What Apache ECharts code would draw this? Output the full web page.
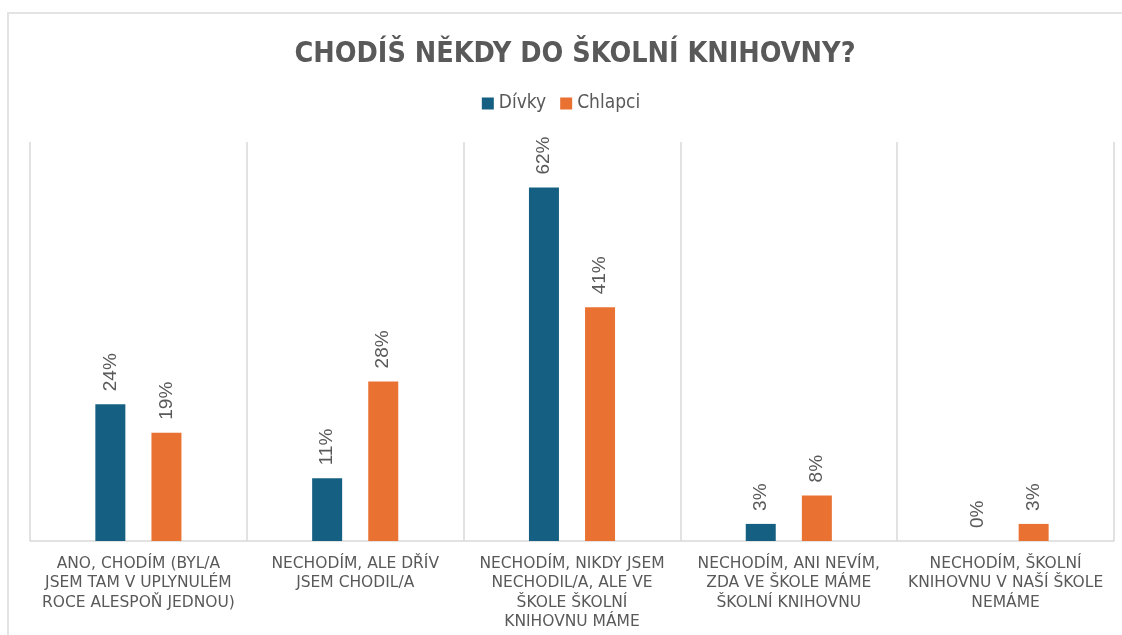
<!DOCTYPE html>
<html>
<head>
<meta charset="utf-8">
<title>Chodíš někdy do školní knihovny?</title>
<script src="https://cdn.jsdelivr.net/npm/echarts@6/dist/echarts.min.js"></script>
<style>
    html, body { margin: 0; padding: 0; background: #fff; }
    #chart { width: 1122px; height: 635px; }
</style>
</head>
<body>
<div id="chart"></div>
<script>
// kategorie (odpovědi)
var categories = [
    'ANO, CHODÍM (BYL/A\nJSEM TAM V UPLYNULÉM\nROCE ALESPOŇ JEDNOU)',
    'NECHODÍM, ALE DŘÍV\nJSEM CHODIL/A',
    'NECHODÍM, NIKDY JSEM\nNECHODIL/A, ALE VE\nŠKOLE ŠKOLNÍ\nKNIHOVNU MÁME',
    'NECHODÍM, ANI NEVÍM,\nZDA VE ŠKOLE MÁME\nŠKOLNÍ KNIHOVNU',
    'NECHODÍM, ŠKOLNÍ\nKNIHOVNU V NAŠÍ ŠKOLE\nNEMÁME'
];
var seriesNames = ['Dívky', 'Chlapci'];
var divky = [24, 11, 62, 3, 0];     // %
var chlapci = [19, 28, 41, 8, 3];   // %

var textGray = '#595959';
var lineGray = '#d9d9d9';

// popisek hodnoty nad sloupcem (otočený)
function barLabel() {
    return {
        show: true,
        position: 'top',
        distance: 13,
        rotate: 90,
        align: 'left',
        verticalAlign: 'middle',
        formatter: '{c}%',
        color: textGray,
        fontFamily: '"Liberation Sans", Arial, sans-serif',
        fontSize: 19
    };
}

var option = {
    backgroundColor: '#fff',
    title: {
        text: 'CHODÍŠ NĚKDY DO ŠKOLNÍ KNIHOVNY?',
        left: 570,
        textAlign: 'center',
        top: 35,
        textStyle: {
            color: textGray,
            fontFamily: '"DejaVu Sans Condensed", "Liberation Sans Narrow", "DejaVu Sans"',
            fontWeight: 'bold',
            fontSize: 28.5
        }
    },
    legend: {
        data: seriesNames,
        top: 89,
        left: 'center',
        itemWidth: 12,
        itemHeight: 12,
        itemGap: 14,
        icon: 'rect',
        textStyle: {
            color: textGray,
            fontFamily: '"DejaVu Sans Condensed", "Liberation Sans Narrow", "DejaVu Sans"',
            fontSize: 19,
            padding: [0, 0, 0, 0]
        }
    },
    // rámeček grafu
    graphic: [{
        type: 'rect',
        shape: { x: 8, y: 13, width: 1200, height: 700 },
        style: { fill: 'none', stroke: '#e3e3e3', lineWidth: 2 },
        silent: true
    }],
    grid: {
        left: 30,
        right: 8,
        top: 142,
        bottom: 94,
        containLabel: false
    },
    xAxis: {
        type: 'category',
        data: categories,
        axisLine: { lineStyle: { color: lineGray, width: 1.5 } },
        axisTick: { show: false },
        splitLine: { show: true, lineStyle: { color: lineGray, width: 1.5 } },
        axisLabel: {
            interval: 0,
            margin: 13,
            color: textGray,
            fontFamily: '"DejaVu Sans", sans-serif',
            fontSize: 15.5,
            lineHeight: 19.5,
            align: 'center'
        }
    },
    yAxis: {
        type: 'value',
        min: 0,
        max: 70,
        show: false,
        splitLine: { show: false }
    },
    series: [
        {
            name: seriesNames[0],
            type: 'bar',
            data: divky,
            color: '#156082',
            barWidth: 30,
            barGap: '87%',
            label: barLabel()
        },
        {
            name: seriesNames[1],
            type: 'bar',
            data: chlapci,
            color: '#E97132',
            barWidth: 30,
            barGap: '87%',
            label: barLabel()
        }
    ]
};

var myChart = echarts.init(document.getElementById('chart'), null, { renderer: 'canvas' });
myChart.setOption(option, true);
window.addEventListener('resize', function () {
    myChart.resize();
});
</script>
</body>
</html>
